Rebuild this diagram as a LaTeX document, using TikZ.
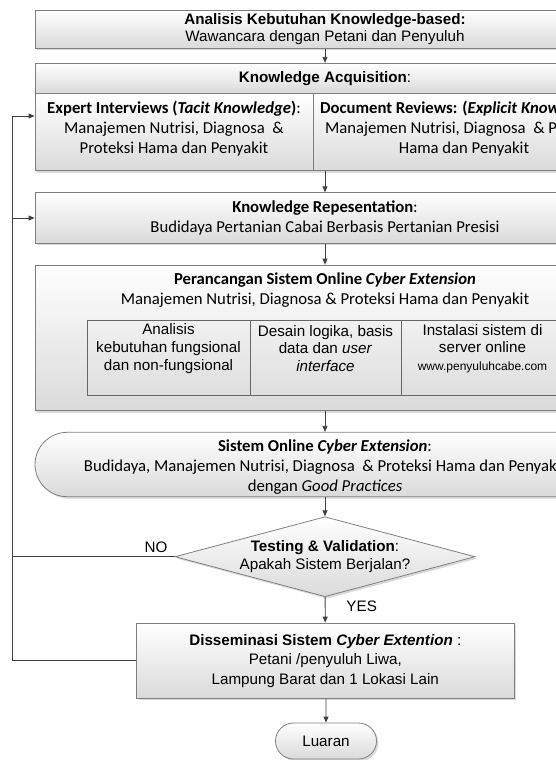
\documentclass[tikz,border=0pt]{standalone}
\usepackage{fontspec}
\setmainfont{Liberation Sans}
\newfontfamily\calibri{Carlito}
\usetikzlibrary{arrows.meta,shapes.geometric,shapes.misc,shadows}
\definecolor{bxline}{HTML}{7F7F7F}
\definecolor{bxshade}{HTML}{DADADA}
\definecolor{arline}{HTML}{404040}
\definecolor{shgray}{HTML}{B4B4B4}
\newcommand{\ar}{\fontsize{15.2}{17.7}\selectfont}
\newcommand{\cb}{\calibri\fontsize{16.7}{20}\selectfont}

\begin{document}
\begin{tikzpicture}[x=1pt,y=-1pt,>={Triangle[length=6pt,width=5pt]},
  box/.style={draw=bxline,line width=0.8pt,top color=white,bottom color=bxshade,
    drop shadow={shadow xshift=2pt,shadow yshift=-2pt,fill=shgray},
    inner sep=0pt,align=center,minimum width=580},
  cell/.style={draw=arline!80,line width=0.8pt,inner sep=0pt,minimum height=75},
  txt/.style={align=center,inner sep=0pt},
  arr/.style={arline,line width=0.8pt,->},
  line/.style={arline,line width=0.8pt}]

  \useasboundingbox (0,0) rectangle (556,760);
  \clip (0,0) rectangle (556,760);

  \def\cx{325}  % centre line of the flow
  \def\xl{12.4} % feedback line

  % =====================================================================
  % Analisis kebutuhan + knowledge acquisition
  % =====================================================================
  \node[box,minimum height=38,font=\ar] (kb) at (\cx,29.2)
        {\textbf{Analisis Kebutuhan Knowledge-based:}\\Wawancara dengan Petani dan Penyuluh};

  \node[box,minimum height=30,font=\ar] (kah) at (\cx,78.3)
        {\textbf{Knowledge Acquisition}:};
  \node[box,minimum width=278,minimum height=77.4] (kl) at (174,132) {};
  \node[box,minimum width=302,minimum height=77.4] (kr) at (464,132) {};
  \node[txt,font=\cb] (klt) at (174,129)
        {\textbf{Expert Interviews (\textit{Tacit Knowledge})}:\\
         Manajemen Nutrisi, Diagnosa \ \&\\Proteksi Hama dan Penyakit};
  \node[txt,font=\cb] (krt) at (464,129)
        {\textbf{Document Reviews: (\textit{Explicit Knowledge})}:\\
         Manajemen Nutrisi, Diagnosa \ \& Proteksi\\Hama dan Penyakit};

  % =====================================================================
  % Representation + perancangan
  % =====================================================================
  \node[box,minimum height=50.6,font=\cb] (krep) at (\cx,218)
        {\textbf{Knowledge Repesentation}:\\Budidaya Pertanian Cabai Berbasis Pertanian Presisi};

  \node[box,minimum height=145.7] (pr) at (\cx,337.9) {};
  \node[txt,font=\cb] (prt) at (\cx,290.5)
        {\textbf{Perancangan Sistem Online \textit{Cyber Extension}}\\
         Manajemen Nutrisi, Diagnosa \& Proteksi Hama dan Penyakit};

  % inner table
  \foreach \n/\x/\w in {c1/168.5/163, c2/325.5/151, c3/482.5/163}
    \node[cell,minimum width=\w] (\n) at (\x,357.5) {};
  \node[txt,font=\ar] (c1t) at (c1.center |- 0,348.5)
        {Analisis\\kebutuhan fungsional\\dan non-fungsional};
  \node[txt,font=\ar] (c2t) at (c2.center |- 0,348.5)
        {Desain logika, basis\\data dan \textit{user}\\\textit{interface}};
  \node[txt,font=\ar] (c3t) at (c3.center |- 0,348.5)
        {Instalasi sistem di\\server online\\{\fontsize{12}{14}\selectfont www.penyuluhcabe.com}};

  % =====================================================================
  % Sistem online, testing, disseminasi, luaran
  % =====================================================================
  \node[box,rounded rectangle,minimum height=64.4] (so) at (\cx,464.5) {};
  \node[txt,font=\cb] (sot) at (\cx,467.5)
        {\textbf{Sistem Online \textit{Cyber Extension}}:\\
         Budidaya, Manajemen Nutrisi, Diagnosa \ \& Proteksi Hama dan Penyakit\\
         dengan \textit{Good Practices}};

  \node[box,diamond,aspect=3.75,inner xsep=-3pt,minimum width=300,minimum height=80,
        font=\ar] (dia) at (\cx,556.7)
        {\textbf{Testing \& Validation}:\\Apakah Sistem Berjalan?};

  \node[box,minimum width=377.5,minimum height=75.3,
        font=\fontsize{15.2}{19.5}\selectfont] (dis) at (325.3,660.7)
        {\textbf{Disseminasi Sistem \textit{Cyber Extention}} :\\
         Petani /penyuluh Liwa,\\Lampung Barat dan 1 Lokasi Lain};

  \node[box,rounded rectangle,minimum width=101,minimum height=36,font=\ar] (out)
        at (326,741) {Luaran};

  % branch labels
  \node[font=\ar] (no) at (156,547) {NO};
  \node[font=\ar] (yes) at (361.7,606) {YES};

  % =====================================================================
  % connectors
  % =====================================================================
  \draw[arr] (kb) -- (kah);
  \draw[arr] (krep.north |- kl.south) -- (krep);
  \draw[arr] (krep) -- (pr);
  \draw[arr] (pr) -- (so);
  \draw[arr] (so) -- (dia);
  \draw[arr] (dia) -- (dis);
  \draw[arr] (dis.south -| out.north) -- (out);

  % feedback loop
  \coordinate (fb) at (\xl,116);
  \draw[line] (dia.west) -- (dia.west -| fb);
  \draw[arr] (dis.west) -| (fb) -- (fb -| kl.west);
  \draw[arr] (fb |- krep.west) -- (krep.west);

\end{tikzpicture}
\end{document}
